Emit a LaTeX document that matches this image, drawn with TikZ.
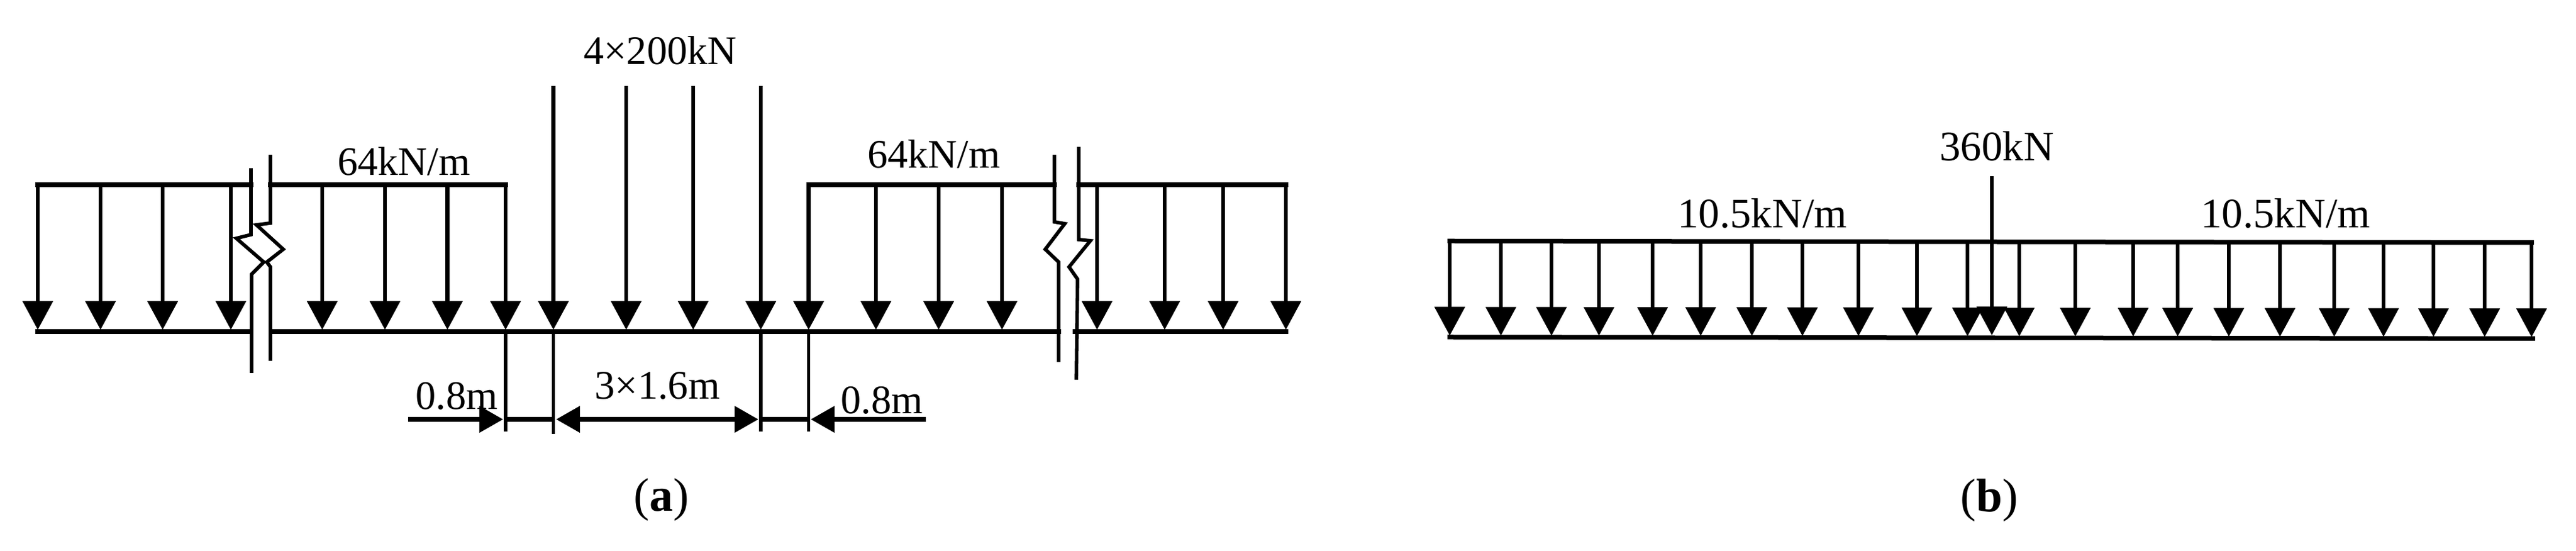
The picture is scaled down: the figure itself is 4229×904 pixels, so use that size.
\documentclass[tikz,border=0pt]{standalone}
\usepackage{fontspec}
\setmainfont{Liberation Serif}
\usetikzlibrary{arrows.meta}

\tikzset{
  beam/.style = {line width = 0.75mm, line cap = rect},
  load/.style = {line width = 0.62mm, -{Triangle[length = 4.7mm, width = 4.9mm]}},
  gap/.style = {line width = 0.58mm},
  dimen/.style = {line width = 0.75mm, {Triangle[length = 3.9mm, width = 4.2mm]}-{Triangle[length = 3.9mm, width = 4.2mm]}},
  dimenr/.style = {line width = 0.75mm, -{Triangle[length = 3.9mm, width = 4.2mm]}},
  lbl/.style = {anchor = base, inner sep = 0pt, font = \fontsize{18.9}{22}\selectfont},
  lblb/.style = {anchor = base, inner sep = 0pt, font = \fontsize{19.6}{23}\selectfont},
  panel/.style = {anchor = base, inner sep = 0pt, font = \fontsize{22}{26}\selectfont}
}

\begin{document}
\begin{tikzpicture} [x = 0.1mm, y = -0.1mm]
\useasboundingbox (0,0) rectangle (4229,904);
\fill[white] (0,0) rectangle (4229,904);

\foreach \x [count = \i] in {62,165,267,379,529,632,734.5,830,1327.5,1438,1541,1645,1801,1912,2008,2111}{
  \coordinate (t\i) at (\x,303);
  \coordinate (b\i) at (\x,541);
  \draw[load] (t\i) -- (b\i);
}
\foreach \x [count = \i] in {908.5,1028,1138,1249}{
  \coordinate (p\i) at (\x,141);
  \coordinate (q\i) at (\x,541);
  \draw[load] (p\i) -- (q\i);
}
\coordinate (u1) at (412,303);
\coordinate (u2) at (444,303);
\coordinate (u3) at (1731,303);
\coordinate (u4) at (1771,303);
\coordinate (v0) at (62,544);
\coordinate (v1) at (412,544);
\coordinate (v2) at (447,544);
\coordinate (v3) at (1738,544);
\coordinate (v4) at (1765,544);
\coordinate (v5) at (2111,544);
\draw[beam] (t1) -- (u1);
\draw[beam] (u2) -- (t8);
\draw[beam] (t9) -- (u3);
\draw[beam] (u4) -- (t16);
\draw[beam] (v0) -- (v1);
\draw[beam] (v2) -- (v3);
\draw[beam] (v4) -- (v5);

\draw[gap] (412,276) -- (412,385) -- (388,391) -- (433,430) -- (413,450) -- (413,612);
\draw[gap] (444,254) -- (444,366) -- (421,369) -- (465,409) -- (438,430) -- (444,438) -- (444,592);
\draw[gap] (1731,254) -- (1731,364) -- (1748,367) -- (1716,409) -- (1738,430) -- (1738,594);
\draw[gap] (1771,241) -- (1771,393) -- (1790,395) -- (1755,438) -- (1769,458) -- (1767,623);

\coordinate (e1) at (830,708);
\coordinate (e2) at (908.5,712);
\coordinate (e3) at (1249,708);
\coordinate (e4) at (1327.5,708);
\draw[gap] (b8) -- (e1);
\draw[gap] (q1) -- (e2);
\draw[gap] (q4) -- (e3);
\draw[gap] (b9) -- (e4);

\coordinate (d1) at (670,688);
\coordinate (d2) at (826,688);
\coordinate (d3) at (830,688);
\coordinate (d4) at (908.5,688);
\coordinate (d5) at (913,688);
\coordinate (d6) at (1245,688);
\coordinate (d7) at (1249,688);
\coordinate (d8) at (1327.5,688);
\coordinate (d9) at (1331,688);
\coordinate (d10) at (1520,688);
\draw[dimenr] (d1) -- (d2);
\draw[line width = 0.75mm] (d3) -- (d4);
\draw[dimen] (d5) -- (d6);
\draw[line width = 0.75mm] (d7) -- (d8);
\draw[dimenr] (d10) -- (d9);

\node[lbl] (n1) at (1084,106) {4×200kN};
\node[lbl] (n2) at (663,288) {64kN/m};
\node[lbl] (n3) at (1533,276) {64kN/m};
\node[lbl] (n4) at (750,672) {0.8m};
\node[lbl] (n5) at (1079,655) {3×1.6m};
\node[lbl] (n6) at (1448,679) {0.8m};
\node[panel] (n7) at (1086,839) {(\textbf{a})};

\foreach \x [count = \i] in {2380,2464,2547,2625,2713,2792,2876,2959,3051,3147,3230,3315,3407,3502,3575,3659,3743,3832,3913,3995,4079,4156}{
  \coordinate (f\i) at (\x,{395.5+(\x-2380)*0.0014});
  \coordinate (g\i) at (\x,{550.5+(\x-2380)*0.0014});
  \draw[load] (f\i) -- (g\i);
}
\coordinate (s) at (3270,289);
\coordinate (r) at (3270,550);
\draw[load] (s) -- (r);
\coordinate (h1) at (2380,553);
\coordinate (h2) at (4158,555.5);
\draw[beam] (f1) -- (f22);
\draw[beam] (h1) -- (h2);

\node[lblb] (k1) at (3278,264) {360kN};
\node[lblb] (k2) at (2893,374) {10.5kN/m};
\node[lblb] (k3) at (3752,374) {10.5kN/m};
\node[panel] (k4) at (3266,840) {(\textbf{b})};
\end{tikzpicture}
\end{document}
